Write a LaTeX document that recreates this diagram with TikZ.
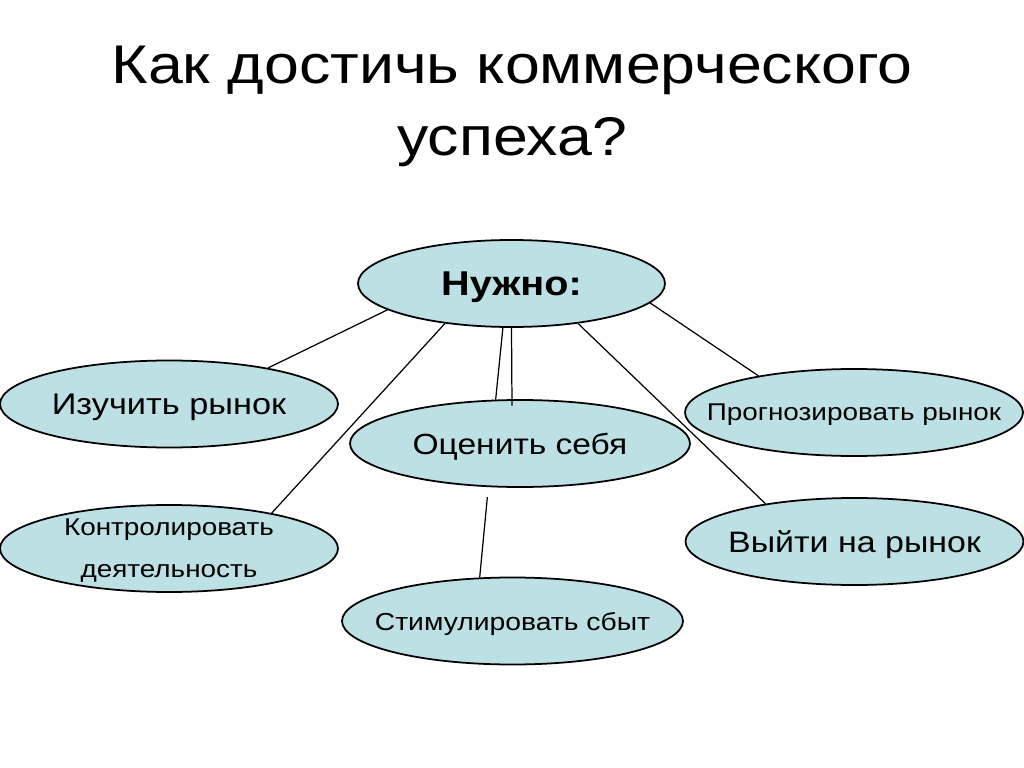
\documentclass[tikz,border=0pt]{standalone}
\usepackage{fontspec}
\setmainfont{Liberation Sans}[FakeStretch=1.15]
\usepackage{tikz}
\usetikzlibrary{shapes.geometric}
\definecolor{bubblefill}{RGB}{188,224,228}

\begin{document}
\begin{tikzpicture}[
    bubble/.style={ellipse,draw=black,line width=0.5pt,fill=bubblefill,text depth=0pt,
                   inner xsep=-3cm,inner ysep=-1cm,minimum width=3.38cm,minimum height=0.87cm,align=center},
    link/.style={draw=black,line width=0.35pt}]
  \useasboundingbox[fill=white] (0,0) rectangle (10.24,-7.68);

  \node[anchor=base,font=\fontsize{15.5}{18}\selectfont] (title) at (5.12,-0.83) {Как достичь коммерческого};
  \node[anchor=base,font=\fontsize{15.5}{18}\selectfont] (title2) at (5.12,-1.55) {успеха?};

  \node[bubble,minimum width=3.07cm,font=\bfseries\fontsize{9.8}{11}\selectfont] (need) at (5.115,-2.835) {Нужно:};
  \node[bubble,font=\fontsize{8.5}{10}\selectfont] (study) at (1.69,-4.04) {Изучить рынок};
  \node[bubble,minimum width=3.4cm,font=\fontsize{8.3}{10}\selectfont] (self) at (5.20,-4.435) {Оценить себя};
  \node[bubble,font=\fontsize{6.9}{8}\selectfont] (forecast) at (8.54,-4.125) {Прогнозировать рынок};
  \node[bubble,font=\fontsize{6.9}{12}\selectfont] (control) at (1.69,-5.485) {Контролировать\\деятельность};
  \node[bubble,font=\fontsize{8.4}{10}\selectfont] (market) at (8.545,-5.415) {Выйти на рынок};
  \node[bubble,minimum width=3.41cm,font=\fontsize{7}{8}\selectfont] (stim) at (5.125,-6.21) {Стимулировать сбыт};

  \coordinate (selfin) at ([xshift=-0.08cm,yshift=-0.065cm]self.north);

  \draw[link] (need.192.5) -- (study.20);
  \draw[link] (need.211) -- (control.19.5);
  \draw[link] (need.259) -- (self.119);
  \draw[link] (need.south) -- (selfin);
  \draw[link] (need.329.5) -- (market.157.5);
  \draw[link] (need.352.5) -- (forecast.159.5);
  \draw[link,shorten <=0.1cm] (self.234) -- (stim.127);
\end{tikzpicture}
\end{document}
